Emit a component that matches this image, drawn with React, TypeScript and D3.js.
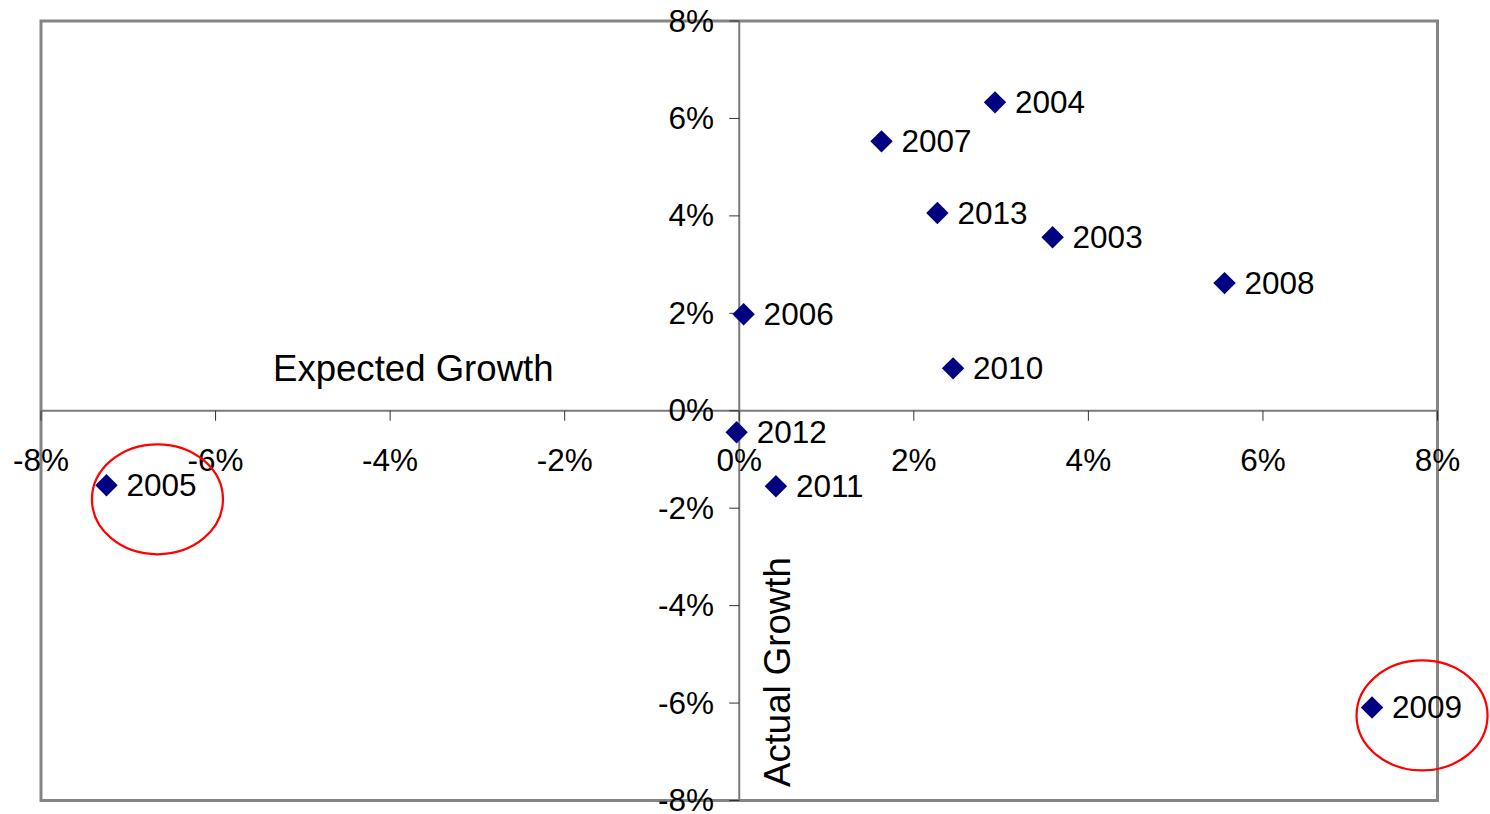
import React from "react";
import * as d3 from "d3";

// Yearly growth: expected (x) vs actual (y), in percent
const years = ["2003", "2004", "2005", "2006", "2007", "2008", "2009", "2010", "2011", "2012", "2013"];
const expectedGrowth = [3.59, 2.93, -7.25, 0.05, 1.63, 5.56, 7.25, 2.45, 0.42, -0.03, 2.27];
const actualGrowth = [3.56, 6.33, -1.53, 1.98, 5.53, 2.62, -6.09, 0.87, -1.55, -0.44, 4.06];

const xTicks = [-8, -6, -4, -2, 0, 2, 4, 6, 8];
const yTicks = [-8, -6, -4, -2, 0, 2, 4, 6, 8];

// Years circled as outliers, with the ring offset from the point
const highlighted = ["2005", "2009"];
const ringOffsets = [
  [51, 14],
  [50, 8],
];

const W = 1490;
const H = 814;
const plot = { left: 41, right: 1437.5, top: 21, bottom: 800.5 };
const FONT = "'Liberation Sans', Arial, Helvetica, sans-serif";

export default function App() {
  const x = d3.scaleLinear().domain([-8, 8]).range([plot.left, plot.right]);
  const y = d3.scaleLinear().domain([-8, 8]).range([plot.bottom, plot.top]);
  const x0 = x(0);
  const y0 = y(0);
  const diamond = d3.symbol().type(d3.symbolDiamond2).size(320)();

  const points = years.map((yr, i) => ({
    year: yr,
    px: x(expectedGrowth[i]),
    py: y(actualGrowth[i]),
  }));

  return (
    <svg
      width={W}
      height={H}
      style={{ position: "absolute", left: 0, top: 0, background: "#fff" }}
      fontFamily={FONT}
    >
      {/* plot frame */}
      <rect
        x={plot.left}
        y={plot.top}
        width={plot.right - plot.left}
        height={plot.bottom - plot.top}
        fill="#fff"
        stroke="#858585"
        strokeWidth={3}
      />

      {/* axes through the origin */}
      <line x1={plot.left} x2={plot.right} y1={y0} y2={y0} stroke="#7a7a7a" strokeWidth={2} />
      <line x1={x0} x2={x0} y1={plot.top} y2={plot.bottom} stroke="#7a7a7a" strokeWidth={2} />

      {/* x ticks */}
      {xTicks.map((t) => (
        <g key={"xt" + t}>
          <line x1={x(t)} x2={x(t)} y1={y0} y2={y0 + 10} stroke="#333" strokeWidth={1} />
          <text x={x(t)} y={471} fontSize={31.5} textAnchor="middle" fill="#000">
            {t + "%"}
          </text>
        </g>
      ))}

      {/* y ticks */}
      {yTicks.map((t) => (
        <g key={"yt" + t}>
          <line x1={x0 - 10} x2={x0} y1={y(t)} y2={y(t)} stroke="#333" strokeWidth={1} />
          <text x={714} y={y(t) + 10.5} fontSize={31.5} textAnchor="end" fill="#000">
            {t + "%"}
          </text>
        </g>
      ))}

      {/* axis titles */}
      <text x={273} y={381} fontSize={36.6} fill="#000">
        Expected Growth
      </text>
      <text transform="translate(790,787) rotate(-90)" fontSize={36.6} fill="#000">
        Actual Growth
      </text>

      {/* points and year labels */}
      {points.map((p) => (
        <g key={p.year}>
          <path d={diamond} transform={`translate(${p.px},${p.py})`} fill="#000080" />
          <text x={p.px + 20} y={p.py + 11} fontSize={31.5} fill="#000">
            {p.year}
          </text>
        </g>
      ))}

      {/* outlier rings */}
      {highlighted.map((yr, i) => {
        const p = points.find((d) => d.year === yr)!;
        return (
          <ellipse
            key={"ring" + yr}
            cx={p.px + ringOffsets[i][0]}
            cy={p.py + ringOffsets[i][1]}
            rx={65.5}
            ry={55}
            fill="none"
            stroke="#ff0000"
            strokeWidth={2.2}
          />
        );
      })}
    </svg>
  );
}
